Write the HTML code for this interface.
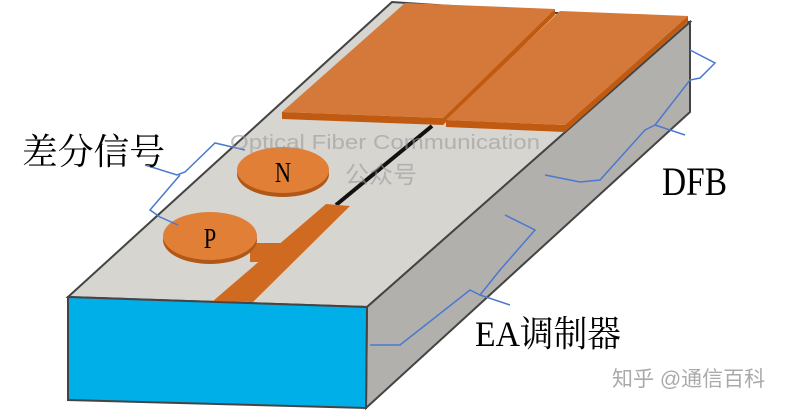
<!DOCTYPE html>
<html><head><meta charset="utf-8"><style>body{margin:0;background:#fff}svg{display:block}</style></head><body>
<svg width="798" height="412" viewBox="0 0 798 412" xmlns="http://www.w3.org/2000/svg">
<polygon points="68,297 367,307 690,22 392,2" fill="#d7d5d0" stroke="#444" stroke-width="2"/>
<polygon points="367,307 690,22 690,112 366,408" fill="#b2b0ac" stroke="#444" stroke-width="2"/>
<polygon points="68,297 367,307 366,408 68,400" fill="#00aee8" stroke="#444" stroke-width="2"/>
<polygon points="282,112 443,118 443,125 282,119" fill="#c05a10"/>
<polygon points="282,112 443,118 555,9 405,3" fill="#d4793a"/>
<polygon points="443,118 443,125 555,15 555,9" fill="#c05a10"/>
<polygon points="446,120 565,125 565,132 446,127" fill="#c05a10"/>
<polygon points="446,120 565,125 688,16 560,11" fill="#d4793a"/>
<polygon points="565,125 565,132 688,22 688,16" fill="#c05a10"/>
<line x1="336" y1="205" x2="432" y2="126" stroke="#111" stroke-width="4"/>
<polygon points="213,301 253,302 350,206 326,204" fill="#d06a20"/>
<polygon points="250,243 285,243 275,262 250,262" fill="#d06a20"/>
<ellipse cx="283" cy="174" rx="46" ry="23" fill="#b05818"/>
<ellipse cx="283" cy="170" rx="46" ry="23" fill="#e07f35"/>
<text x="283" y="182" text-anchor="middle" font-family="Liberation Serif, serif" font-size="28" transform="translate(283,0) scale(0.8,1) translate(-283,0)">N</text>
<ellipse cx="210" cy="240" rx="47" ry="24" fill="#b05818"/>
<ellipse cx="210" cy="236" rx="47" ry="24" fill="#e07f35"/>
<text x="210" y="248" text-anchor="middle" font-family="Liberation Serif, serif" font-size="28" transform="translate(210,0) scale(0.8,1) translate(-210,0)">P</text>
<g fill="none" stroke="#4a78d0" stroke-width="1.5">
<polyline points="145,165 177,175 185,172 215,143 245,150"/>
<polyline points="180,175 150,210 160,217 178,225"/>
<polyline points="690,50 715,63 700,78 690,80 655,125 685,135"/>
<polyline points="655,125 645,130 600,180 580,182 545,175"/>
<polyline points="505,215 535,230 500,270 480,295 510,305"/>
<polyline points="480,295 470,290 400,345 370,345"/>
</g>
<text x="22" y="164" font-family="Liberation Serif, 'Noto Serif CJK SC', serif" font-size="36" transform="translate(22,0) scale(1.0,1) translate(-22,0)" textLength="143" lengthAdjust="spacingAndGlyphs">差分信号</text>
<text x="662" y="195" font-family="Liberation Serif, serif" font-size="40" textLength="65" lengthAdjust="spacingAndGlyphs">DFB</text>
<text x="475" y="346" font-family="Liberation Serif, 'Noto Serif CJK SC', serif" font-size="36" textLength="146" lengthAdjust="spacingAndGlyphs">EA调制器</text>
<text x="230" y="149" font-family="Liberation Sans, sans-serif" font-size="20" fill="#999" fill-opacity="0.6" textLength="310" lengthAdjust="spacingAndGlyphs">Optical Fiber Communication</text>
<text x="345" y="183" font-family="Liberation Sans, 'Noto Sans CJK SC', sans-serif" font-size="24" fill="#999" fill-opacity="0.6">公众号</text>
<text x="612" y="386" font-family="Liberation Sans, 'Noto Sans CJK SC', sans-serif" font-size="21" fill="#aaa">知乎 @通信百科</text>
</svg>
</body></html>
